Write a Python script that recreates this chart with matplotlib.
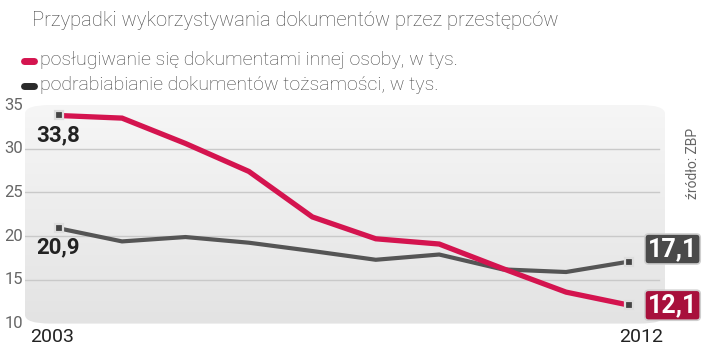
import matplotlib
matplotlib.use("Agg")
import matplotlib.pyplot as plt
import numpy as np
from matplotlib.patches import FancyBboxPatch

plt.rcParams['font.family'] = ['Roboto', 'DejaVu Sans']

years = [2003, 2004, 2005, 2006, 2007, 2008, 2009, 2010, 2011, 2012]
uzycie = [33.8, 33.5, 30.6, 27.4, 22.2, 19.7, 19.1, 16.3, 13.6, 12.1]
podrabianie = [20.9, 19.4, 19.9, 19.25, 18.3, 17.3, 17.9, 16.2, 15.9, 17.1]
yticks = [10, 15, 20, 25, 30, 35]

title = "Przypadki wykorzystywania dokumentów przez przestępców"
leg_red = "posługiwanie się dokumentami innej osoby, w tys."
leg_gray = "podrabiabianie dokumentów tożsamości, w tys."

RED = "#d4144f"
DRED = "#a8103c"
GRAY = "#555555"

fig = plt.figure(figsize=(7.2, 3.6), dpi=100)
ax = fig.add_axes([25/720, 1 - 323.6/360, 640/720, 218.6/360])
ax.set_xlim(2002.47, 2012.56)
ax.set_ylim(10, 35)
for s in ax.spines.values():
    s.set_visible(False)
ax.set_xticks([])
ax.set_yticks([])

# rounded gradient background
bg = FancyBboxPatch((0, 0), 1, 1, boxstyle="round,pad=0,rounding_size=0.04",
                    transform=ax.transAxes, facecolor="none", edgecolor="none")
ax.add_patch(bg)
grad = np.linspace(0, 1, 256).reshape(-1, 1)
im = ax.imshow(grad, extent=[0, 1, 0, 1], transform=ax.transAxes, aspect="auto",
               cmap=matplotlib.colors.LinearSegmentedColormap.from_list("g", ["#f6f6f6", "#e3e3e3"]),
               origin="upper", zorder=0)
im.set_clip_path(bg)

# grid lines
for y in yticks[1:-1]:
    ax.plot([0, 0.99], [y, y], transform=ax.get_yaxis_transform(), color="#c9c9c9", lw=1, zorder=1)

# y labels sit left of the rounded panel
for y in yticks:
    fig.text(23/720, 1 - (323.6 - (y - 10) * 218.6 / 25) / 360,
             str(y), ha="right", va="center", fontsize=12, color="#666666")

ax.plot(years, podrabianie, color=GRAY, lw=3, solid_joinstyle="miter", zorder=3)
ax.plot(years, uzycie, color=RED, lw=3.8, solid_joinstyle="miter", zorder=4)
for ser in (uzycie, podrabianie):
    ax.plot([years[0], years[-1]], [ser[0], ser[-1]], ls="none", marker="s", ms=6,
            mfc="#444444", mec="#dedede", mew=1.6, zorder=5)

ax.annotate("33,8", (years[0], uzycie[0]), xytext=(-16, -14), textcoords="offset points",
            ha="left", va="center", fontsize=16, fontweight="bold", color="#222222")
ax.annotate("20,9", (years[0], podrabianie[0]), xytext=(-16, -14), textcoords="offset points",
            ha="left", va="center", fontsize=16, fontweight="bold", color="#222222")

ax.annotate("17,1", (years[-1], podrabianie[-1]), xytext=(31, 9), textcoords="offset points",
            ha="center", va="center", fontsize=18, fontweight="bold", color="white",
            annotation_clip=False,
            bbox=dict(boxstyle="round,pad=0.12,rounding_size=0.15", fc="#4a4a4a", ec="#cfcfcf", lw=1.2))
ax.annotate("12,1", (years[-1], uzycie[-1]), xytext=(31, 0), textcoords="offset points",
            ha="center", va="center", fontsize=18, fontweight="bold", color="white",
            annotation_clip=False,
            bbox=dict(boxstyle="round,pad=0.12,rounding_size=0.15", fc=DRED, ec="#cfcfcf", lw=1.2))

fig.text(30/720, 1 - 337/360, "2003", ha="left", va="center", fontsize=14, color="#222222")
fig.text(663/720, 1 - 337/360, "2012", ha="right", va="center", fontsize=14, color="#222222")

# title and legend
fig.text(32/720, 1 - 20/360, title, ha="left", va="center", fontsize=14.5,
         fontweight="light", color="#444444")
fig.text(40/720, 1 - 60/360, leg_red, ha="left", va="center", fontsize=14,
         fontweight="light", color="#444444")
fig.text(40/720, 1 - 85/360, leg_gray, ha="left", va="center", fontsize=14,
         fontweight="light", color="#444444")
fig.lines.append(plt.Line2D([24/720, 34/720], [1 - 61/360] * 2, transform=fig.transFigure,
                            color=RED, lw=5, solid_capstyle="round"))
fig.lines.append(plt.Line2D([24/720, 34/720], [1 - 86/360] * 2, transform=fig.transFigure,
                            color="#2a2a2a", lw=5, solid_capstyle="round"))

fig.text(693/720, 1 - 163/360, "źródło: ZBP", rotation=90, ha="center", va="center",
         fontsize=10, color="#666666")

fig.savefig("out.png", dpi=100)
